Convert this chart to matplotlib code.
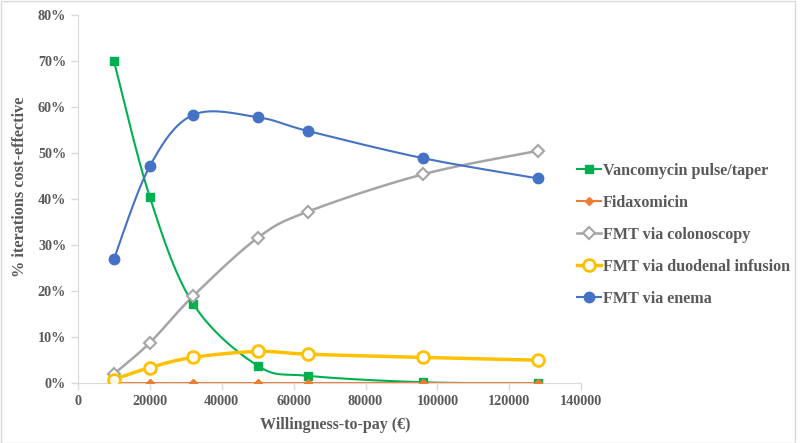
import numpy as np
import matplotlib
matplotlib.use("Agg")
import matplotlib.pyplot as plt
from matplotlib.patches import Rectangle

wtp = [10000, 20000, 32000, 50000, 64000, 96000, 128000]
vanco = [70.0, 40.4, 17.3, 3.8, 1.6, 0.2, 0.0]
fidax = [0.0, 0.0, 0.0, 0.0, 0.0, 0.0, 0.0]
colon = [2.0, 8.8, 18.9, 31.6, 37.3, 45.4, 50.5]
duoden = [0.8, 3.4, 5.6, 6.9, 6.3, 5.6, 5.0]
enema = [27.0, 47.2, 58.3, 57.8, 54.8, 48.9, 44.5]
labels = ["Vancomycin pulse/taper", "Fidaxomicin", "FMT via colonoscopy",
          "FMT via duodenal infusion", "FMT via enema"]


def smooth(x, y, n=30):
    # Excel-like smoothed line: cubic Bezier with Catmull-Rom control points
    x = np.asarray(x, float); y = np.asarray(y, float)
    xs, ys = [x[0]], [y[0]]
    t = np.linspace(0, 1, n)[1:]
    for i in range(len(x) - 1):
        p0 = np.array([x[max(i - 1, 0)], y[max(i - 1, 0)]])
        p1 = np.array([x[i], y[i]])
        p2 = np.array([x[i + 1], y[i + 1]])
        p3 = np.array([x[min(i + 2, len(x) - 1)], y[min(i + 2, len(x) - 1)]])
        c1 = p1 + (p2 - p0) / 6
        c2 = p2 - (p3 - p1) / 6
        for tt in t:
            b = ((1 - tt) ** 3) * p1 + 3 * ((1 - tt) ** 2) * tt * c1 + 3 * (1 - tt) * tt ** 2 * c2 + tt ** 3 * p2
            xs.append(b[0]); ys.append(b[1])
    return np.array(xs), np.array(ys)


plt.rcParams['font.family'] = ['Liberation Serif', 'DejaVu Serif']
fig = plt.figure(figsize=(8, 4.43), dpi=100)
ax = fig.add_axes([0.0975, 0.135, 0.629, 0.831])

txt = '#595959'
styles = [
    dict(color='#00B050', marker='s', ms=6, mfc='#00B050', mec='#00B050', lw=1.5),
    dict(color='#ED7D31', marker='D', ms=4.5, mfc='#ED7D31', mec='#ED7D31', lw=1.5),
    dict(color='#A5A5A5', marker='D', ms=6.5, mfc='white', mec='#A5A5A5', mew=1.5, lw=1.8),
    dict(color='#FFC000', marker='o', ms=8.5, mfc='white', mec='#FFC000', mew=2.0, lw=2.5),
    dict(color='#4472C4', marker='o', ms=7.5, mfc='#4472C4', mec='#4472C4', lw=1.5),
]
series = [vanco, fidax, colon, duoden, enema]
handles = []
for s, st, lab in zip(series, styles, labels):
    sx, sy = smooth(wtp, s)
    ax.plot(sx, sy, color=st['color'], lw=st['lw'], zorder=2)
    kw = {k: v for k, v in st.items() if k not in ('lw', 'color')}
    ax.plot(wtp, s, ls='none', zorder=3, **kw)
    h, = ax.plot([], [], color=st['color'], lw=st['lw'], label=lab, **kw)
    handles.append(h)

ax.set_xlim(0, 140000)
ax.set_ylim(0, 80)
ax.set_xticks(np.arange(0, 140001, 20000))
ax.set_xticklabels([str(v) for v in range(0, 140001, 20000)])
ax.set_yticks(np.arange(0, 81, 10))
ax.set_yticklabels([f"{v}%" for v in range(0, 81, 10)])
for sp in ['top', 'right']:
    ax.spines[sp].set_visible(False)
for sp in ['left', 'bottom']:
    ax.spines[sp].set_color('#D9D9D9')
ax.tick_params(colors='#D9D9D9', labelcolor=txt, labelsize=10.2, length=5, width=1)
for lbl in ax.get_xticklabels() + ax.get_yticklabels():
    lbl.set_fontweight('bold')
fig.text(335 / 800, 1 - 425 / 443, "Willingness-to-pay (€)", ha='center', va='center',
         fontsize=11.5, fontweight='bold', color=txt)
fig.text(0.025, 0.578, "% iterations cost-effective", rotation=90, ha='center', va='center',
         fontsize=11.7, fontweight='bold', color=txt)

leg = fig.legend(handles=handles, loc='center left', bbox_to_anchor=(0.703, 0.47), frameon=False,
                 prop=dict(family='Liberation Serif', weight='bold', size=11.6),
                 handlelength=1.5, handletextpad=0.12, labelspacing=1.0)
for t in leg.get_texts():
    t.set_color(txt)

fig.patches.append(Rectangle((0.001, 0.001), 0.993, 0.997, transform=fig.transFigure,
                             fill=False, edgecolor='#D9D9D9', lw=1))
fig.savefig("out.png", dpi=100)
